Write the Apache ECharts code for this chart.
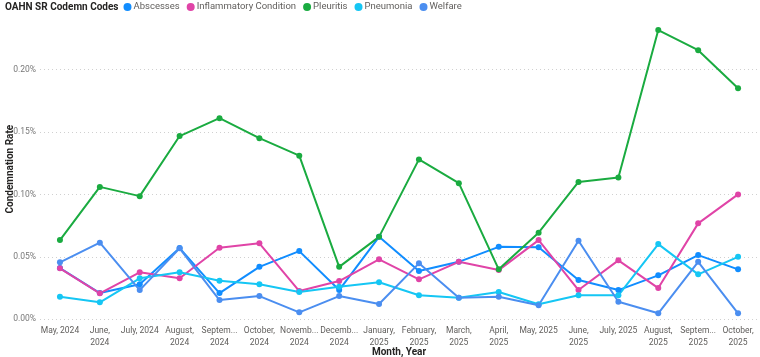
<!DOCTYPE html>
<html><head><meta charset="utf-8">
<script src="https://cdn.jsdelivr.net/npm/echarts@6/dist/echarts.min.js"></script>
<style>html,body{margin:0;padding:0;background:#fff}#c{width:760px;height:357px}</style>
</head><body><div id="c"></div>
<script>
const categories = ["May, 2024","June,\n2024","July, 2024","August,\n2024","Septem...\n2024","October,\n2024","Novemb...\n2024","Decemb...\n2024","January,\n2025","February,\n2025","March,\n2025","April,\n2025","May, 2025","June,\n2025","July, 2025","August,\n2025","Septem...\n2025","October,\n2025"];
// values in percent
const abscesses    = [0.041,0.021,0.028,0.057,0.021,0.042,0.0546,0.0234,0.066,0.0386,0.046,0.058,0.0576,0.0314,0.0234,0.0352,0.0514,0.040];
const inflammatory = [0.0408,0.0208,0.0376,0.0328,0.0573,0.0608,0.0226,0.0306,0.048,0.032,0.046,0.0394,0.0634,0.0234,0.0472,0.025,0.0768,0.100];
const pleuritis    = [0.0634,0.106,0.0986,0.1467,0.161,0.145,0.131,0.042,0.066,0.128,0.109,0.040,0.0693,0.110,0.1136,0.2315,0.2154,0.185];
const pneumonia    = [0.0181,0.0136,0.0328,0.0376,0.0309,0.028,0.0218,0.026,0.0296,0.0192,0.0173,0.0218,0.012,0.0192,0.0192,0.0602,0.036,0.050];
const welfare      = [0.0456,0.0613,0.0234,0.0568,0.0154,0.0186,0.0056,0.0186,0.0122,0.0448,0.0173,0.0181,0.0112,0.0629,0.0141,0.0048,0.046,0.0048];
const seriesNames = ["Abscesses","Inflammatory Condition","Pleuritis","Pneumonia","Welfare"];
const seriesData = [abscesses, inflammatory, pleuritis, pneumonia, welfare];
const colors = ["#118DFF","#E044A7","#1AAB40","#15C6F4","#4B8EF0"];
const titleText = "OAHN SR Codemn Codes";

const font = "Roboto, 'Noto Sans', sans-serif";
const titleSize = 10;
const ctx = document.createElement('canvas').getContext('2d');
ctx.font = "bold " + titleSize + "px " + font;
const titleW = ctx.measureText(titleText).width;

const chart = echarts.init(document.getElementById('c'), null, {renderer:'canvas'});
chart.setOption({
  animation:false,
  color: colors,
  textStyle:{fontFamily:font},
  title:{text:titleText, left:5, top:0, padding:[2,0,0,0], textStyle:{fontSize:titleSize, fontWeight:'bold', color:'#252423', fontFamily:font}},
  legend:{left:5 + titleW + 5, top:2, padding:0, icon:'circle', itemWidth:8, itemHeight:8, itemGap:7,
    textStyle:{fontSize:9.5, color:'#605E5C', fontFamily:font, padding:[0,0,0,-3]},
    data: seriesNames},
  grid:{left:40, right:2, top:7, bottom:37.7, outerBoundsMode:'none', containLabel:false},
  xAxis:{type:'category', data:categories, boundaryGap:true,
    name:"Month, Year", nameLocation:'middle', nameGap:28, nameMoveOverlap:false,
    nameTextStyle:{fontSize:10, fontWeight:'bold', color:'#252423', fontFamily:font},
    axisLine:{show:false}, axisTick:{show:false},
    axisLabel:{interval:0, fontSize:8.5, color:'#605E5C', lineHeight:12, margin:6, fontFamily:font}},
  yAxis:{type:'value', min:0, max:0.25, interval:0.05,
    name:"Condemnation Rate", nameLocation:'middle', nameGap:25, nameMoveOverlap:false,
    nameTextStyle:{fontSize:10, fontWeight:'bold', color:'#252423', fontFamily:font, padding:[0,0,0,-12]},
    axisLabel:{fontSize:8.5, color:'#777777', margin:4, showMaxLabel:false, fontFamily:font,
      formatter:v=>v.toFixed(2)+'%'},
    splitLine:{show:true, showMaxLine:false, lineStyle:{type:[1,3], color:'#D0D0D0', width:1}}},
  series: seriesNames.map((n,i)=>({
    name:n, type:'line', data:seriesData[i], symbol:'circle', symbolSize:6,
    lineStyle:{width:2}, itemStyle:{color:colors[i]}
  }))
});
</script></body></html>
